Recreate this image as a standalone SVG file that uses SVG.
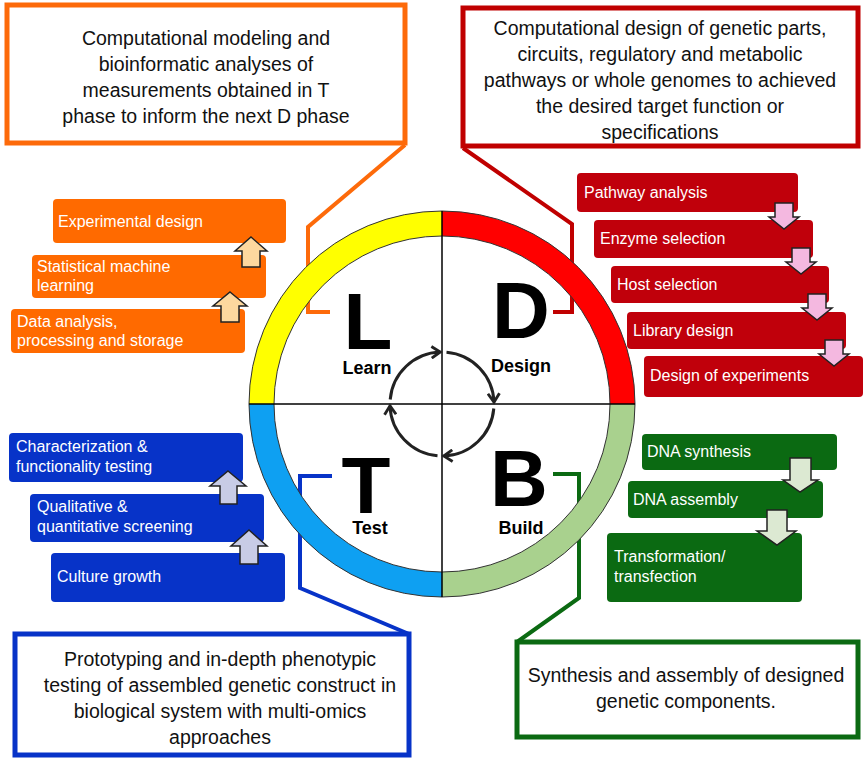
<svg xmlns="http://www.w3.org/2000/svg" width="865" height="763" viewBox="0 0 865 763">
<defs>
<style>
text{font-family:"Liberation Sans",Arial,sans-serif}
.call{fill:#fff;stroke-width:5}
.ctext{font-size:19.5px;fill:#111;text-anchor:middle}
.lbl{font-size:16px;fill:#fff}
.big{font-size:80px;font-weight:bold;fill:#000;text-anchor:middle}
.phase{font-size:18px;font-weight:bold;fill:#000;text-anchor:middle}
.ptr{fill:none;stroke-width:4;stroke-linejoin:miter}
.arr{stroke:#222;stroke-width:1.5;stroke-linejoin:miter}
.cyc{fill:none;stroke:#222;stroke-width:3;marker-end:url(#head)}
.ring{stroke:none}
</style>
<marker id="head" viewBox="0 0 10 10" refX="7" refY="5" markerWidth="4.8" markerHeight="4.8" orient="auto" markerUnits="strokeWidth">
<path d="M1,1 L7,5 L1,9" fill="none" stroke="#222" stroke-width="2"/>
</marker>
</defs>
<rect width="865" height="763" fill="#fff"/>

<g id="connectors">
<path class="ptr" stroke="#fd6a0a" d="M405,145 L308,227 L308,312 L330,312"/>
<path class="ptr" stroke="#c00000" d="M463,148 L572,224 L572,312 L553,312"/>
<path class="ptr" stroke="#0733c8" d="M409,634 L300,588 L300,476 L332,476"/>
<path class="ptr" stroke="#0b6a12" d="M517,642 L579,598 L579,474 L553,474"/>
</g>

<g id="callout-learn">
<rect class="call" stroke="#fd6a0a" x="7" y="5" width="398" height="138"/>
<text class="ctext" x="206"><tspan x="206" y="45">Computational modeling and</tspan><tspan x="206" y="71">bioinformatic analyses of</tspan><tspan x="206" y="97">measurements obtained in T</tspan><tspan x="206" y="123">phase to inform the next D phase</tspan></text>
</g>
<g id="callout-design">
<rect class="call" stroke="#c00000" x="463" y="8" width="395" height="138"/>
<text class="ctext" x="660"><tspan x="660" y="35">Computational design of genetic parts,</tspan><tspan x="660" y="61">circuits, regulatory and metabolic</tspan><tspan x="660" y="87">pathways or whole genomes to achieved</tspan><tspan x="660" y="113">the desired target function or</tspan><tspan x="660" y="139">specifications</tspan></text>
</g>
<g id="callout-test">
<rect class="call" stroke="#0733c8" x="15" y="634" width="394" height="121"/>
<text class="ctext" x="220"><tspan x="220" y="666">Prototyping and in-depth phenotypic</tspan><tspan x="220" y="692">testing of assembled genetic construct in</tspan><tspan x="220" y="718">biological system with multi-omics</tspan><tspan x="220" y="744">approaches</tspan></text>
</g>
<g id="callout-build">
<rect class="call" stroke="#0b6a12" x="517" y="642" width="341" height="95"/>
<text class="ctext" x="686"><tspan x="686" y="682">Synthesis and assembly of designed</tspan><tspan x="686" y="708">genetic components.</tspan></text>
</g>

<g id="cycle">
<path class="ring" fill="#ffff00" d="M249,404 A193,193 0 0 1 442,211 L442,236 A168,168 0 0 0 274,404 Z"/>
<path class="ring" fill="#ff0000" d="M442,211 A193,193 0 0 1 635,404 L610,404 A168,168 0 0 0 442,236 Z"/>
<path class="ring" fill="#a9d18e" d="M635,404 A193,193 0 0 1 442,597 L442,572 A168,168 0 0 0 610,404 Z"/>
<path class="ring" fill="#0ea0f2" d="M442,597 A193,193 0 0 1 249,404 L274,404 A168,168 0 0 0 442,572 Z"/>
<circle cx="442" cy="404" r="193" fill="none" stroke="#333" stroke-width="1"/>
<circle cx="442" cy="404" r="168" fill="none" stroke="#333" stroke-width="1"/>
<line x1="249" y1="404" x2="635" y2="404" stroke="#000" stroke-width="1.5"/>
<line x1="442" y1="211" x2="442" y2="597" stroke="#000" stroke-width="1.5"/>
<path class="cyc" d="M390.2,399.5 A52,52 0 0 1 440.2,352"/>
<path class="cyc" d="M446.5,352.2 A52,52 0 0 1 494,402.2"/>
<path class="cyc" d="M493.8,408.5 A52,52 0 0 1 443.8,456"/>
<path class="cyc" d="M437.5,455.8 A52,52 0 0 1 390,405.8"/>
</g>

<g id="phase-learn"><text class="big" x="368" y="349">L</text><text class="phase" x="367" y="374">Learn</text></g>
<g id="phase-design"><text class="big" x="521" y="338">D</text><text class="phase" x="521" y="372">Design</text></g>
<g id="phase-test"><text class="big" x="366" y="513">T</text><text class="phase" x="370" y="534">Test</text></g>
<g id="phase-build"><text class="big" x="519" y="506">B</text><text class="phase" x="521" y="534">Build</text></g>

<g id="learn-steps">
<g id="experimental-design"><rect x="53" y="199" width="233" height="44" rx="4" fill="#ff6a00"/><text class="lbl" x="58" y="227">Experimental design</text></g>
<g id="statistical-ml"><rect x="32" y="255" width="234" height="43" rx="4" fill="#ff6a00"/><text class="lbl" x="37" y="272">Statistical machine</text><text class="lbl" x="37" y="291">learning</text></g>
<g id="data-analysis"><rect x="11" y="309" width="234" height="44" rx="4" fill="#ff6a00"/><text class="lbl" x="17" y="327">Data analysis,</text><text class="lbl" x="17" y="346">processing and storage</text></g>
<path class="arr" fill="#fdd89e" d="M251,237 L267,251 L260,251 L260,267 L242,267 L242,251 L235,251 Z"/>
<path class="arr" fill="#fdd89e" d="M230,292 L247,306 L239,306 L239,322 L221,322 L221,306 L213,306 Z"/>
</g>

<g id="design-steps">
<g id="pathway-analysis"><rect x="577" y="173" width="221" height="39" rx="4" fill="#c0000b"/><text class="lbl" x="584" y="198">Pathway analysis</text></g>
<g id="enzyme-selection"><rect x="594" y="220" width="219" height="38" rx="4" fill="#c0000b"/><text class="lbl" x="600" y="244">Enzyme selection</text></g>
<g id="host-selection"><rect x="611" y="266" width="218" height="37" rx="4" fill="#c0000b"/><text class="lbl" x="617" y="290">Host selection</text></g>
<g id="library-design"><rect x="627" y="312" width="219" height="37" rx="4" fill="#c0000b"/><text class="lbl" x="633" y="336">Library design</text></g>
<g id="design-of-experiments"><rect x="644" y="356" width="219" height="41" rx="4" fill="#c0000b"/><text class="lbl" x="650" y="381">Design of experiments</text></g>
<path class="arr" fill="#f4b8e0" d="M775,203 L793,203 L793,217 L799,217 L784,229 L769,217 L775,217 Z"/>
<path class="arr" fill="#f4b8e0" d="M792,248 L810,248 L810,262 L816,262 L801,274 L786,262 L792,262 Z"/>
<path class="arr" fill="#f4b8e0" d="M808,294 L826,294 L826,308 L832,308 L817,320 L802,308 L808,308 Z"/>
<path class="arr" fill="#f4b8e0" d="M825,340 L843,340 L843,354 L849,354 L834,366 L819,354 L825,354 Z"/>
</g>

<g id="test-steps">
<g id="characterization"><rect x="9" y="433" width="234" height="49" rx="4" fill="#0733c8"/><text class="lbl" x="16" y="452">Characterization &amp;</text><text class="lbl" x="16" y="472">functionality testing</text></g>
<g id="screening"><rect x="30" y="494" width="234" height="48" rx="4" fill="#0733c8"/><text class="lbl" x="37" y="512">Qualitative &amp;</text><text class="lbl" x="37" y="532">quantitative screening</text></g>
<g id="culture-growth"><rect x="51" y="553" width="234" height="49" rx="4" fill="#0733c8"/><text class="lbl" x="57" y="582">Culture growth</text></g>
<path class="arr" fill="#c8cce6" d="M228,471 L246,486 L237,486 L237,504 L220,504 L220,486 L210,486 Z"/>
<path class="arr" fill="#c8cce6" d="M249,530 L267,546 L258,546 L258,564 L240,564 L240,546 L231,546 Z"/>
</g>

<g id="build-steps">
<g id="dna-synthesis"><rect x="642" y="434" width="195" height="36" rx="4" fill="#0b6a12"/><text class="lbl" x="647" y="457">DNA synthesis</text></g>
<g id="dna-assembly"><rect x="628" y="481" width="195" height="37" rx="4" fill="#0b6a12"/><text class="lbl" x="633" y="505">DNA assembly</text></g>
<g id="transformation"><rect x="607" y="533" width="195" height="69" rx="4" fill="#0b6a12"/><text class="lbl" x="614" y="562">Transformation/</text><text class="lbl" x="614" y="582">transfection</text></g>
<path class="arr" fill="#dce9d2" d="M790,458 L811,458 L811,480 L818,480 L800,492 L783,480 L790,480 Z"/>
<path class="arr" fill="#dce9d2" d="M767,510 L787,510 L787,531 L796,531 L777,545 L757,531 L767,531 Z"/>
</g>
</svg>
